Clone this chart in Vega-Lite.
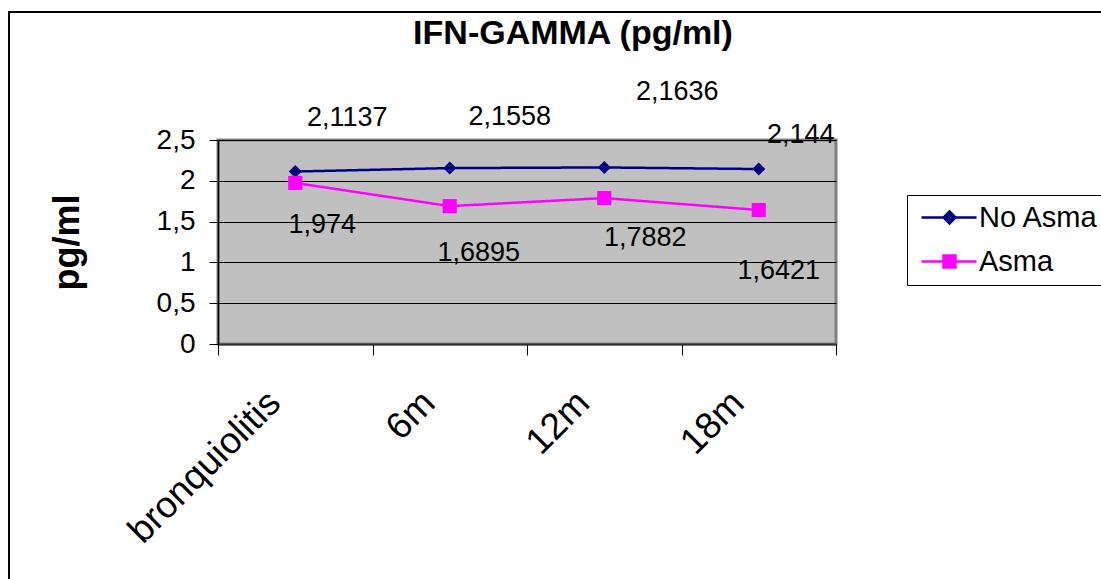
{
  "$schema": "https://vega.github.io/schema/vega-lite/v6.json",
  "autosize": {"type": "none"},
  "width": 618,
  "height": 204,
  "padding": {"left": 218, "top": 140, "right": 265, "bottom": 235},
  "background": "#FFFFFF",
  "title": {
    "text": "IFN-GAMMA (pg/ml)",
    "fontSize": 34,
    "fontWeight": "bold",
    "font": "Liberation Sans",
    "color": "#000000",
    "anchor": "middle",
    "frame": "group",
    "dx": 46,
    "offset": -40
  },
  "data": {
    "values": [
      {"cat": "bronquiolitis", "serie": "No Asma", "val": 2.1137},
      {"cat": "6m", "serie": "No Asma", "val": 2.1558},
      {"cat": "12m", "serie": "No Asma", "val": 2.1636},
      {"cat": "18m", "serie": "No Asma", "val": 2.144},
      {"cat": "bronquiolitis", "serie": "Asma", "val": 1.974},
      {"cat": "6m", "serie": "Asma", "val": 1.6895},
      {"cat": "12m", "serie": "Asma", "val": 1.7882},
      {"cat": "18m", "serie": "Asma", "val": 1.6421}
    ]
  },
  "encoding": {
    "x": {
      "field": "cat",
      "type": "nominal",
      "sort": ["bronquiolitis", "6m", "12m", "18m"],
      "scale": {"type": "band", "paddingInner": 0, "paddingOuter": 0},
      "axis": {
        "title": null,
        "labelAngle": -45,
        "labelAlign": "right",
        "labelBaseline": "middle",
        "labelFont": "Liberation Sans",
        "labelFontSize": 37,
        "labelColor": "#000000",
        "labelLimit": 500,
        "labelPadding": 42,
        "labelOffset": -21,
        "tickBand": "extent",
        "tickSize": 11,
        "tickColor": "#000000",
        "tickWidth": 1,
        "domainColor": "#303030",
        "domainWidth": 2,
        "grid": false
      }
    },
    "y": {
      "field": "val",
      "type": "quantitative",
      "scale": {"domain": [0, 2.5], "nice": false, "zero": true},
      "axis": {
        "title": "pg/ml",
        "titleFont": "Liberation Sans",
        "titleFontSize": 36,
        "titleFontWeight": "bold",
        "titleColor": "#000000",
        "titlePadding": 70,
        "values": [0, 0.5, 1, 1.5, 2, 2.5],
        "format": "~g",
        "labelFont": "Liberation Sans",
        "labelFontSize": 28,
        "labelColor": "#000000",
        "labelPadding": 14,
        "tickSize": 9,
        "tickColor": "#000000",
        "domainColor": "#000000",
        "domainWidth": 1.5,
        "grid": true,
        "gridColor": "#000000",
        "gridWidth": 1,
        "gridOpacity": 1
      }
    }
  },
  "layer": [
    {
      "mark": {"type": "line", "strokeWidth": 2.5},
      "encoding": {
        "color": {
          "field": "serie",
          "type": "nominal",
          "scale": {"domain": ["No Asma", "Asma"], "range": ["#000080", "#FF00FF"]},
          "legend": {
            "orient": "none",
            "legendX": 689,
            "legendY": 55,
            "title": null,
            "padding": 8,
            "strokeColor": "#000000",
            "fillColor": "#FFFFFF",
            "labelFont": "Liberation Sans",
            "labelFontSize": 29,
            "labelColor": "#000000",
            "labelOffset": 35,
            "rowPadding": 14,
            "symbolSize": 400,
            "symbolStrokeWidth": 2.5,
            "encode": {
              "symbols": {
                "update": {
                  "shape": {"signal": "datum.value == 'No Asma' ? 'M-0.8,0H4.7M2,-0.6L2.6,0L2,0.6L1.4,0Z' : 'M-0.8,0H4.7M1.4,-0.6H2.6V0.6H1.4Z'"},
                  "strokeWidth": {"value": 2.5},
                  "opacity": {"value": 1}
                }
              }
            }
          }
        },
        "strokeDash": {
          "datum": "marco",
          "scale": {"range": [[1, 0]]},
          "legend": {
            "orient": "none",
            "legendX": -209,
            "legendY": -128,
            "title": null,
            "padding": 1000,
            "strokeColor": "#000000",
            "labelExpr": "''",
            "symbolOpacity": 0,
            "encode": {"legend": {"update": {"strokeWidth": {"value": 2}}}}
          }
        }
      }
    },
    {
      "transform": [{"filter": "datum.serie == 'No Asma'"}],
      "mark": {"type": "point", "filled": true, "opacity": 1, "shape": "diamond", "size": 170},
      "encoding": {"color": {"field": "serie", "type": "nominal"}}
    },
    {
      "transform": [{"filter": "datum.serie == 'Asma'"}],
      "mark": {"type": "point", "filled": true, "opacity": 1, "shape": "square", "size": 200},
      "encoding": {"color": {"field": "serie", "type": "nominal"}}
    },
    {
      "transform": [{"filter": "datum.serie == 'No Asma' && datum.cat == 'bronquiolitis'"}],
      "mark": {"type": "text", "font": "Liberation Sans", "fontSize": 27, "color": "#000000", "align": "center", "baseline": "middle", "dx": 52, "dy": -54},
      "encoding": {"text": {"field": "val", "type": "quantitative", "format": "~g"}}
    },
    {
      "transform": [{"filter": "datum.serie == 'No Asma' && datum.cat == '6m'"}],
      "mark": {"type": "text", "font": "Liberation Sans", "fontSize": 27, "color": "#000000", "align": "center", "baseline": "middle", "dx": 60, "dy": -51},
      "encoding": {"text": {"field": "val", "type": "quantitative", "format": "~g"}}
    },
    {
      "transform": [{"filter": "datum.serie == 'No Asma' && datum.cat == '12m'"}],
      "mark": {"type": "text", "font": "Liberation Sans", "fontSize": 27, "color": "#000000", "align": "center", "baseline": "middle", "dx": 73, "dy": -75},
      "encoding": {"text": {"field": "val", "type": "quantitative", "format": "~g"}}
    },
    {
      "transform": [{"filter": "datum.serie == 'No Asma' && datum.cat == '18m'"}],
      "mark": {"type": "text", "font": "Liberation Sans", "fontSize": 27, "color": "#000000", "align": "center", "baseline": "middle", "dx": 42, "dy": -34},
      "encoding": {"text": {"field": "val", "type": "quantitative", "format": "~g"}}
    },
    {
      "transform": [{"filter": "datum.serie == 'Asma' && datum.cat == 'bronquiolitis'"}],
      "mark": {"type": "text", "font": "Liberation Sans", "fontSize": 27, "color": "#000000", "align": "center", "baseline": "middle", "dx": 27, "dy": 42},
      "encoding": {"text": {"field": "val", "type": "quantitative", "format": "~g"}}
    },
    {
      "transform": [{"filter": "datum.serie == 'Asma' && datum.cat == '6m'"}],
      "mark": {"type": "text", "font": "Liberation Sans", "fontSize": 27, "color": "#000000", "align": "center", "baseline": "middle", "dx": 29, "dy": 47},
      "encoding": {"text": {"field": "val", "type": "quantitative", "format": "~g"}}
    },
    {
      "transform": [{"filter": "datum.serie == 'Asma' && datum.cat == '12m'"}],
      "mark": {"type": "text", "font": "Liberation Sans", "fontSize": 27, "color": "#000000", "align": "center", "baseline": "middle", "dx": 41, "dy": 40},
      "encoding": {"text": {"field": "val", "type": "quantitative", "format": "~g"}}
    },
    {
      "transform": [{"filter": "datum.serie == 'Asma' && datum.cat == '18m'"}],
      "mark": {"type": "text", "font": "Liberation Sans", "fontSize": 27, "color": "#000000", "align": "center", "baseline": "middle", "dx": 20, "dy": 61},
      "encoding": {"text": {"field": "val", "type": "quantitative", "format": "~g"}}
    }
  ],
  "config": {
    "font": "Liberation Sans",
    "locale": {"number": {"decimal": ",", "thousands": ".", "grouping": [3], "currency": ["", " €"]}},
    "view": {"fill": "#C0C0C0", "stroke": "#808080", "strokeWidth": 3}
  }
}
